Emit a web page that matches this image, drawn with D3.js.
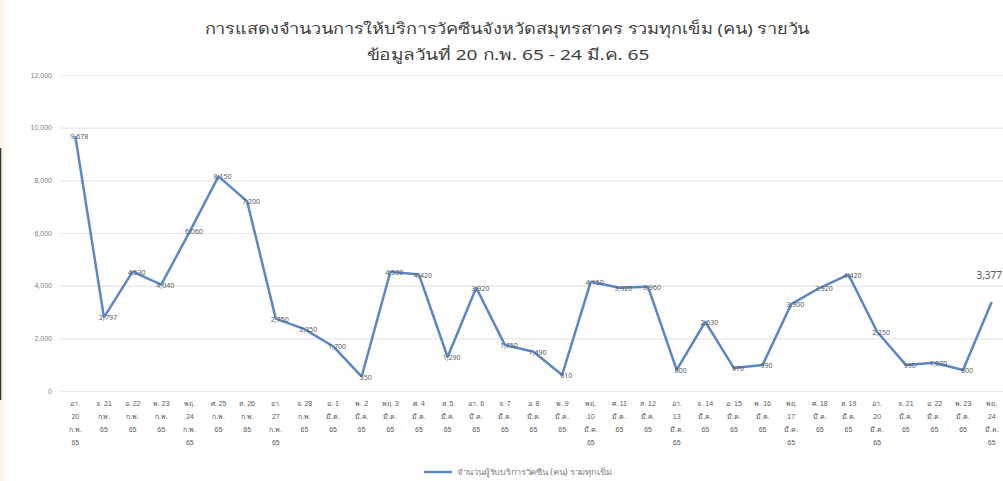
<!DOCTYPE html>
<html>
<head>
<meta charset="utf-8">
<script src="https://cdn.jsdelivr.net/npm/d3@7"></script>
<style>
  body { margin: 0; background: #fff; }
  svg { font-family: "Noto Sans", "Noto Sans CJK SC", sans-serif; }
</style>
</head>
<body>
<div id="chart"></div>
<script>
// Daily vaccination totals, 20 Feb 65 - 24 Mar 65
const dayNames = ["อา.", "จ.", "อ.", "พ.", "พฤ.", "ศ.", "ส.", "อา.", "จ.", "อ.", "พ.", "พฤ.", "ศ.", "ส.",
  "อา.", "จ.", "อ.", "พ.", "พฤ.", "ศ.", "ส.", "อา.", "จ.", "อ.", "พ.", "พฤ.", "ศ.", "ส.",
  "อา.", "จ.", "อ.", "พ.", "พฤ."];
const dayNums = [20, 21, 22, 23, 24, 25, 26, 27, 28, 1, 2, 3, 4, 5, 6, 7, 8, 9, 10, 11, 12,
  13, 14, 15, 16, 17, 18, 19, 20, 21, 22, 23, 24];
const months = ["ก.พ.", "ก.พ.", "ก.พ.", "ก.พ.", "ก.พ.", "ก.พ.", "ก.พ.", "ก.พ.", "ก.พ.",
  "มี.ค.", "มี.ค.", "มี.ค.", "มี.ค.", "มี.ค.", "มี.ค.", "มี.ค.", "มี.ค.", "มี.ค.", "มี.ค.",
  "มี.ค.", "มี.ค.", "มี.ค.", "มี.ค.", "มี.ค.", "มี.ค.", "มี.ค.", "มี.ค.", "มี.ค.", "มี.ค.",
  "มี.ค.", "มี.ค.", "มี.ค.", "มี.ค."];
const vaccinated = [9678, 2797, 4530, 4040, 6060, 8150, 7200, 2750, 2350, 1700, 550,
  4530, 4420, 1290, 3920, 1750, 1490, 610, 4150, 3920, 3960, 800, 2630, 870, 990,
  3300, 3920, 4420, 2250, 990, 1070, 800, 3377];
const yTicks = [0, 2000, 4000, 6000, 8000, 10000, 12000];

const titleLine1 = "การแสดงจำนวนการให้บริการวัคซีนจังหวัดสมุทรสาคร รวมทุกเข็ม (คน) รายวัน";
const titleLine2 = "ข้อมูลวันที่  20 ก.พ. 65 - 24 มี.ค. 65";
const legendLabel = "จำนวนผู้รับบริการวัคซีน (คน) รวมทุกเข็ม";

let svgWidth = 1003;
let svgHeight = 481;

let svg = d3.select("#chart")
    .append("svg")
    .attr("width", svgWidth)
    .attr("height", svgHeight);

// cream strip and dark edge on the left border
svg.append("rect").attr("x", 0).attr("y", 0).attr("width", 5).attr("height", svgHeight).attr("fill", "#fbf5ea");
svg.append("line").attr("x1", 0.5).attr("x2", 0.5).attr("y1", 148).attr("y2", 400)
    .attr("stroke", "#333").attr("stroke-width", 1.5);

let x = d3.scaleBand()
    .domain(vaccinated.map((v, i) => i))
    .range([61, 1006]);

let y = d3.scaleLinear()
    .domain([0, 12000])
    .range([391, 75]);

// gridlines + y axis
let yAxis = d3.axisLeft(y)
    .tickValues(yTicks)
    .tickSize(-(1006 - 61))
    .tickFormat(d3.format(","));

let yG = svg.append("g")
    .attr("transform", "translate(61,0)")
    .call(yAxis);
yG.select(".domain").remove();
yG.selectAll(".tick line").attr("stroke", "#e6e6e6").attr("stroke-width", 1.2);
yG.selectAll(".tick text")
    .attr("x", -9)
    .attr("fill", "#7f7f7f")
    .style("font-size", "7px");

// x axis labels (wrapped)
let xAxis = d3.axisBottom(x).tickSize(0).tickFormat("");
let xG = svg.append("g")
    .attr("transform", "translate(0,391)")
    .call(xAxis);
xG.select(".domain").attr("stroke", "#e6e6e6");

xG.selectAll(".tick").each(function (i) {
    let lines;
    if (dayNums[i] >= 10 && (dayNames[i] === "อา." || dayNames[i] === "พฤ.")) {
        lines = [dayNames[i], String(dayNums[i]), months[i], "65"];
    } else {
        lines = [dayNames[i] + " " + dayNums[i], months[i], "65"];
    }
    let t = d3.select(this).append("text")
        .attr("fill", "#595959")
        .style("font-size", "7px")
        .attr("text-anchor", "middle");
    lines.forEach((l, k) => {
        t.append("tspan").attr("x", 0).attr("y", 15 + k * 13).text(l);
    });
});

// line
let line = d3.line()
    .x((d, i) => x(i) + x.bandwidth() / 2)
    .y(d => y(d));

svg.append("path")
    .datum(vaccinated)
    .attr("fill", "none")
    .attr("stroke", "#5b87c5")
    .attr("stroke-width", 2.5)
    .attr("stroke-linejoin", "round")
    .attr("d", line);

// data labels
let last = vaccinated.length - 1;
let lbl = svg.append("g").selectAll("g")
    .data(vaccinated)
    .enter()
    .append("g")
    .attr("transform", (d, i) => i === last
        ? `translate(1002, ${y(d) - 23})`
        : `translate(${x(i) + x.bandwidth() / 2 + 4}, ${y(d) + 3})`);

lbl.append("text")
    .attr("text-anchor", (d, i) => i === last ? "end" : "middle")
    .attr("fill", "#595959")
    .style("font-size", (d, i) => i === last ? "10px" : "7px")
    .text(d => d3.format(",")(d));

// title
svg.append("text")
    .attr("x", 507)
    .attr("y", 34)
    .attr("text-anchor", "middle")
    .attr("fill", "#404040")
    .attr("textLength", 605)
    .attr("lengthAdjust", "spacingAndGlyphs")
    .style("font-size", "15px")
    .text(titleLine1);

svg.append("text")
    .attr("x", 508)
    .attr("y", 60)
    .attr("text-anchor", "middle")
    .attr("fill", "#404040")
    .attr("textLength", 283)
    .attr("lengthAdjust", "spacingAndGlyphs")
    .style("font-size", "15px")
    .text(titleLine2);

// legend
svg.append("line")
    .attr("x1", 424).attr("x2", 452)
    .attr("y1", 472).attr("y2", 472)
    .attr("stroke", "#5b87c5")
    .attr("stroke-width", 2.5);

svg.append("text")
    .attr("x", 457)
    .attr("y", 475)
    .attr("fill", "#7f7f7f")
    .attr("textLength", 155)
    .attr("lengthAdjust", "spacingAndGlyphs")
    .style("font-size", "8px")
    .text(legendLabel);
</script>
</body>
</html>
